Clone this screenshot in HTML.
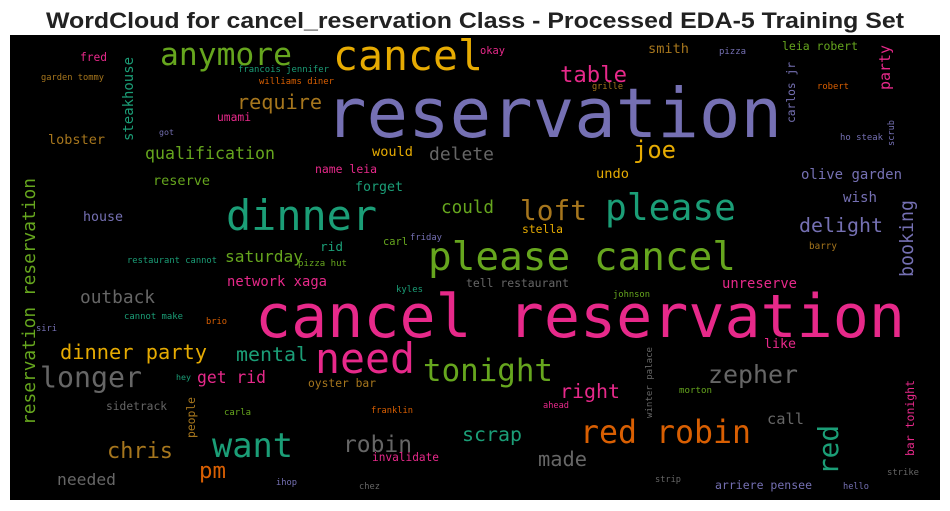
<!DOCTYPE html>
<html><head><meta charset="utf-8"><style>
html,body{margin:0;padding:0;background:#fff;}
svg{display:block;}
</style></head><body>
<svg id="chart" width="950" height="511" viewBox="0 0 950 511" xmlns="http://www.w3.org/2000/svg">
<text x="475" y="28" text-anchor="middle" font-family="Liberation Sans, Arial, sans-serif" font-weight="bold" font-size="22" fill="#222" textLength="858" lengthAdjust="spacingAndGlyphs">WordCloud for cancel_reservation Class - Processed EDA-5 Training Set</text>
<rect x="10" y="35" width="930" height="465" fill="#000"/>
<g id="words"></g>
</svg>
<script>
const C={t:'#1b9e77',o:'#d95f02',p:'#7570b3',k:'#e7298a',g:'#66a61e',y:'#e6ab02',b:'#a6761d',r:'#666666'};
// horizontal words: text, left x, baseline y, width, color
const words=[
["reservation",325,137,457,'p'],
["cancel reservation",255,337,650,'k'],
["dinner",226,230,151,'t'],
["cancel",333,70,150,'y'],
["anymore",160,65,132,'g'],
["please cancel",428,270,308,'g'],
["please",605,220,131,'t'],
["loft",520,220,67,'b'],
["need",315,373,100,'k'],
["tonight",423,381,130,'g'],
["red robin",580,443,171,'o'],
["want",212,457,81,'t'],
["longer",40,387,102,'r'],
["robin",343,452,69,'r'],
["zepher",708,383,90,'r'],
["chris",107,458,66,'b'],
["joe",633,158,43,'y'],
["delight",799,232,84,'p'],
["table",560,82,67,'k'],
["pm",199,478,27,'o'],
["require",237,109,85,'b'],
["qualification",145,159,130,'g'],
["lobster",48,144,57,'b'],
["delete",429,160,65,'r'],
["would",372,156,41,'y'],
["reserve",153,185,57,'g'],
["forget",355,191,48,'t'],
["name leia",315,173,62,'k'],
["house",83,221,40,'p'],
["could",441,213,53,'g'],
["saturday",225,262,78,'g'],
["rid",320,251,23,'t'],
["carl",383,245,25,'g'],
["friday",410,240,32,'p'],
["restaurant cannot",127,263,90,'t'],
["pizza hut",298,266,49,'g'],
["umami",217,121,34,'k'],
["got",159,135,15,'p'],
["fred",80,61,27,'k'],
["garden tommy",41,80,63,'b'],
["francois jennifer",238,72,91,'t'],
["williams diner",259,84,75,'o'],
["okay",480,54,25,'k'],
["smith",648,53,41,'b'],
["pizza",719,54,27,'p'],
["leia robert",782,50,76,'g'],
["grille",592,89,31,'b'],
["robert",817,89,32,'o'],
["ho steak",840,140,43,'p'],
["undo",596,178,33,'y'],
["olive garden",801,179,101,'p'],
["wish",843,202,34,'p'],
["stella",522,233,41,'y'],
["barry",809,249,28,'b'],
["network xaga",227,286,100,'k'],
["outback",80,303,75,'r'],
["cannot make",124,319,59,'t'],
["brio",206,324,21,'o'],
["siri",36,331,21,'p'],
["kyles",396,292,27,'t'],
["tell restaurant",466,287,103,'r'],
["johnson",613,297,37,'g'],
["unreserve",722,288,75,'k'],
["dinner party",60,359,147,'y'],
["mental",236,361,72,'t'],
["get rid",197,383,69,'k'],
["hey",176,380,15,'t'],
["oyster bar",308,387,68,'b'],
["sidetrack",106,410,61,'r'],
["carla",224,415,27,'g'],
["franklin",371,413,42,'o'],
["invalidate",372,461,67,'k'],
["needed",57,485,59,'r'],
["ihop",276,485,21,'p'],
["chez",359,489,21,'r'],
["scrap",462,441,60,'t'],
["like",764,348,32,'k'],
["right",560,398,60,'k'],
["ahead",543,408,26,'k'],
["morton",679,393,33,'g'],
["call",767,424,37,'r'],
["made",538,466,49,'r'],
["strip",655,482,26,'r'],
["arriere pensee",715,489,97,'p'],
["hello",843,489,26,'p'],
["strike",887,475,32,'r']
];
// vertical words (read bottom to top): text, baseline x, bottom y, length, color
const vwords=[
["reservation reservation",35,425,247,'g'],
["booking",913,277,77,'p'],
["steakhouse",133,141,84,'t'],
["party",890,90,45,'k'],
["carlos jr",795,123,61,'p'],
["scrub",894,146,26,'p'],
["bar tonight",914,456,76,'k'],
["winter palace",652,418,71,'r'],
["people",195,438,41,'b'],
["red",838,475,50,'t']
];
const NS='http://www.w3.org/2000/svg';
const g=document.getElementById('words');
function fsOf(t,w){return w/(t.length*0.602);}
words.forEach(function(d){
  const el=document.createElementNS(NS,'text');
  
  
  el.setAttribute('x',d[1]);el.setAttribute('y',d[2]);
  el.setAttribute('font-size',fsOf(d[0],d[3]).toFixed(1));
  el.setAttribute('font-family','DejaVu Sans Mono, Liberation Mono, monospace');
  el.setAttribute('fill',C[d[4]]);
  el.setAttribute('textLength',d[3]);
  el.setAttribute('lengthAdjust','spacingAndGlyphs');
  el.textContent=d[0];
  g.appendChild(el);
});
vwords.forEach(function(d){
  const el=document.createElementNS(NS,'text');
  
  
  el.setAttribute('x',0);el.setAttribute('y',0);
  el.setAttribute('transform','translate('+d[1]+','+d[2]+') rotate(-90)');
  el.setAttribute('font-size',fsOf(d[0],d[3]).toFixed(1));
  el.setAttribute('font-family','DejaVu Sans Mono, Liberation Mono, monospace');
  el.setAttribute('fill',C[d[4]]);
  el.setAttribute('textLength',d[3]);
  el.setAttribute('lengthAdjust','spacingAndGlyphs');
  el.textContent=d[0];
  g.appendChild(el);
});
</script>
</body></html>
